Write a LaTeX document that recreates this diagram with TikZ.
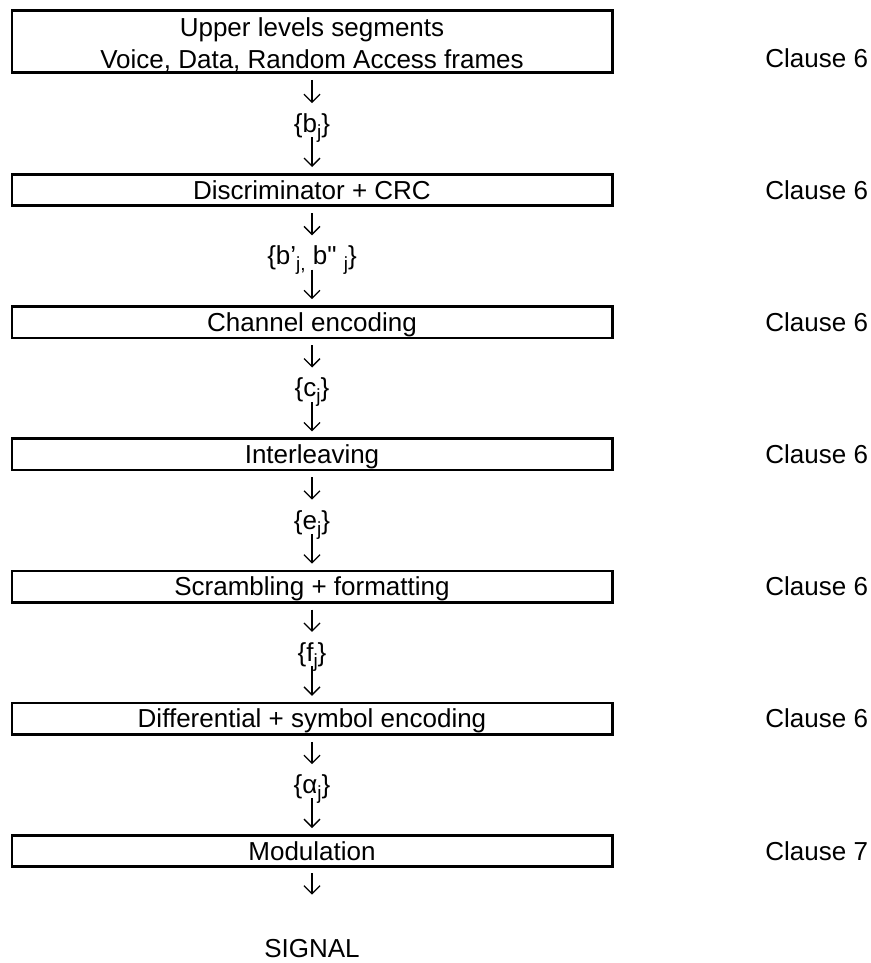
\documentclass[tikz,border=0pt]{standalone}
\usepackage{fontspec}
\setmainfont{Liberation Sans}
\usetikzlibrary{arrows.meta}
\newcommand\subidx[1]{\raisebox{-3pt}{\fontsize{9.5}{9.5}\selectfont #1}}

\begin{document}
\begin{tikzpicture}[x=0.5pt,y=-0.5pt,font=\fontsize{13}{16.3}\selectfont,
    stage/.style={draw, line width=1.3pt, minimum width=300.2pt, minimum height=15.7pt, inner sep=0pt, text height=11.05pt, text depth=1.95pt},
    sig/.style={inner sep=0pt, text height=9.5pt, text depth=2.73pt, anchor=base},
    clause/.style={inner sep=0pt, anchor=base west},
    flow/.style={-{Straight Barb[length=4pt,width=8pt]}, line width=0.65pt},
    tolabel/.style={flow, shorten <=3pt, shorten >=5pt},
    tobox/.style={flow, shorten <=-0.5pt, shorten >=3pt}]
            \useasboundingbox (0,0) rectangle (871,963);
            % Transmitter chain, top to bottom
            \node[draw, line width=1.3pt, minimum width=300.2pt, minimum height=31.2pt, inner sep=0pt, align=center] (upper) at (312,41.5) {\rule{0pt}{12.5pt}Upper levels segments\\Voice, Data, Random Access frames};
            \node[sig] (bj) at (312,132.5) {\{b\subidx{j}\}};
            \node[stage] (discr) at (312,190) {Discriminator + CRC};
            \node[sig] (bbj) at (312,264.7) {\{b’\subidx{j,} b\textquotedbl{} \subidx{j}\}};
            \node[stage] (chenc) at (312,322.2) {Channel encoding};
            \node[sig] (cj) at (312,396.9) {\{c\subidx{j}\}};
            \node[stage] (inter) at (312,454.4) {Interleaving};
            \node[sig] (ej) at (312,529.1) {\{e\subidx{j}\}};
            \node[stage] (scram) at (312,586.6) {Scrambling + formatting};
            \node[sig] (fj) at (312,661.3) {\{f\subidx{j}\}};
            \node[stage] (diffenc) at (312,718.8) {Differential + symbol encoding};
            \node[sig] (aj) at (312,793.5) {\{α\subidx{j}\}};
            \node[stage] (modul) at (312,851) {Modulation};
            \node[sig] (signal) at (312,957) {SIGNAL};

            % Clause references
            \node[clause] (cl1) at (765,67.5) {Clause 6};
            \node[clause] (cl2) at (765,199.1) {Clause 6};
            \node[clause] (cl3) at (765,331.3) {Clause 6};
            \node[clause] (cl4) at (765,463.5) {Clause 6};
            \node[clause] (cl5) at (765,595.7) {Clause 6};
            \node[clause] (cl6) at (765,727.9) {Clause 6};
            \node[clause] (cl7) at (765,860.1) {Clause 7};

            \draw[tolabel] (upper) -- (bj);
            \draw[tobox] (bj) -- (discr);
            \draw[tolabel] (discr) -- (bbj);
            \draw[tobox] (bbj) -- (chenc);
            \draw[tolabel] (chenc) -- (cj);
            \draw[tobox] (cj) -- (inter);
            \draw[tolabel] (inter) -- (ej);
            \draw[tobox] (ej) -- (scram);
            \draw[tolabel] (scram) -- (fj);
            \draw[tobox] (fj) -- (diffenc);
            \draw[tolabel] (diffenc) -- (aj);
            \draw[tobox] (aj) -- (modul);
            \draw[flow, shorten <=2.5pt, shorten >=21.5pt] (modul) -- (signal);
        \end{tikzpicture}
\end{document}
